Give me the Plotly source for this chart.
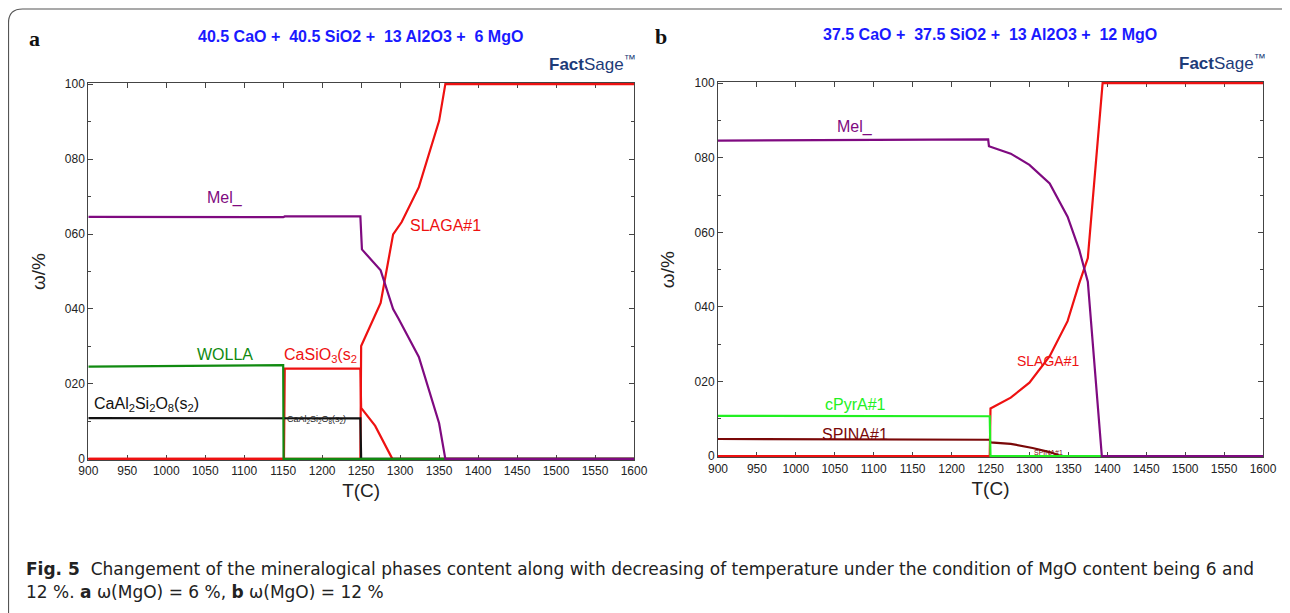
import plotly.graph_objects as go

# the page body adds an 8px margin, so the figure is 8px smaller and all
# reference pixel positions are shifted by that offset
OFF = 8
W, H = 1290 - OFF, 613 - OFF

# ---------------- data ----------------
# Panel a: 40.5 CaO + 40.5 SiO2 + 13 Al2O3 + 6 MgO
a_mel_T = [900, 1150, 1152, 1249, 1251, 1275, 1291, 1298, 1324, 1350, 1358, 1600]
a_mel_v = [64.6, 64.5, 64.7, 64.7, 55.9, 50.3, 40.0, 37.4, 27.2, 9.5, 0, 0]
a_slag_T = [900, 1249, 1250, 1275, 1291, 1302, 1324, 1350, 1358, 1600]
a_slag_v = [0, 0, 30.1, 41.6, 59.9, 63.2, 72.5, 90.2, 100, 100]
a_casio3_T = [900, 1151, 1152, 1249, 1250, 1268, 1290, 1600]
a_casio3_v = [0, 0, 24.1, 24.1, 13.6, 8.8, 0, 0]
a_wolla_T = [900, 1150, 1150.5, 1600]
a_wolla_v = [24.6, 25.0, 0, 0]
a_anor_T = [900, 1150, 1249, 1250, 1600]
a_anor_v = [10.9, 10.8, 10.8, 0, 0]

# Panel b: 37.5 CaO + 37.5 SiO2 + 13 Al2O3 + 12 MgO
b_mel_T = [900, 1247, 1248, 1276, 1300, 1326, 1349, 1364, 1375, 1393, 1600]
b_mel_v = [84.6, 84.9, 83.1, 81.1, 78.1, 73.1, 64.2, 55.3, 46.8, 0, 0]
b_slag_T = [900, 1249, 1250, 1276, 1300, 1326, 1349, 1364, 1375, 1394, 1600]
b_slag_v = [0, 0, 12.8, 15.7, 19.7, 26.8, 36.2, 46.4, 53.1, 100, 100]
b_cpyr_T = [900, 1249, 1250, 1600]
b_cpyr_v = [10.8, 10.7, 0, 0]
b_spina_T = [900, 1249, 1250, 1276, 1304, 1326, 1341, 1600]
b_spina_v = [4.6, 4.4, 3.7, 3.3, 2.2, 1.1, 0, 0]

x_ticks = list(range(900, 1601, 50))
y_ticks = [0, 20, 40, 60, 80, 100]
y_ticktext = ["0", "020", "040", "060", "080", "100"]
y_minor = [10, 30, 50, 70, 90]

RED = "#ee1111"
PURPLE = "#7f0a80"
DGREEN = "#108a10"
LIME = "#22f022"
DRED = "#7a0808"

fig = go.Figure()

def add(T, v, color, xa, ya, width=2.2):
    fig.add_trace(go.Scatter(x=T, y=v, mode="lines", xaxis=xa, yaxis=ya,
                             line=dict(color=color, width=width),
                             showlegend=False, hoverinfo="skip"))

# panel a (order chosen so the visible baseline colours match)
add(a_slag_T, a_slag_v, RED, "x", "y")
add(a_casio3_T, a_casio3_v, RED, "x", "y")
add(a_anor_T, a_anor_v, "#111111", "x", "y")
add(a_wolla_T, a_wolla_v, DGREEN, "x", "y")
add(a_mel_T, a_mel_v, PURPLE, "x", "y")

# panel b
add(b_slag_T, b_slag_v, RED, "x2", "y2")
add(b_spina_T, b_spina_v, DRED, "x2", "y2")
add(b_cpyr_T, b_cpyr_v, LIME, "x2", "y2")
add(b_mel_T, b_mel_v, PURPLE, "x2", "y2")

def px(x):
    return (x - OFF) / W

def py(y):
    return 1 - (y - OFF) / H

axis_common = dict(showline=True, linecolor="#444", linewidth=1, mirror="allticks",
                   ticks="inside", ticklen=5, tickcolor="#444", showgrid=False,
                   zeroline=False, layer="below traces", automargin=False,
                   tickfont=dict(family="Liberation Sans, Arial", size=12, color="#222"))

xa = dict(axis_common, range=[900, 1600], tickmode="array", tickvals=x_ticks,
          title=dict(text="T(C)", font=dict(family="Liberation Sans, Arial", size=19, color="#222"),
                     standoff=6))
ya = dict(axis_common, range=[-0.3, 100.3], tickmode="array", tickvals=y_ticks,
          ticktext=y_ticktext,
          minor=dict(tickmode="array", tickvals=y_minor, ticks="inside", ticklen=3, tickcolor="#444"),
          title=dict(text="ω/%", font=dict(family="Liberation Sans, Arial", size=19, color="#222"),
                     standoff=14))

fig.update_layout(
    template="none",
    width=W, height=H, margin=dict(l=0, r=0, t=0, b=0, autoexpand=False),
    paper_bgcolor="white", plot_bgcolor="white",
    xaxis=dict(xa, domain=[px(88.3), px(634)], anchor="y"),
    yaxis=dict(ya, domain=[py(460), py(83)], anchor="x"),
    xaxis2=dict(xa, domain=[px(718), px(1263)], anchor="y2"),
    yaxis2=dict(ya, domain=[py(457.3), py(82)], anchor="x2"),
)

ann = []

def text(x, y, s, size, color, xanchor="center", family="Liberation Sans, Arial"):
    ann.append(dict(x=px(x), y=py(y), xref="paper", yref="paper", text=s, showarrow=False,
                    xanchor=xanchor, yanchor="middle",
                    font=dict(size=size, color=color, family=family)))

# panel letters
text(34, 38, "<b>a</b>", 22, "#111", family="Liberation Serif, Times New Roman")
text(661, 37, "<b>b</b>", 22, "#111", family="Liberation Serif, Times New Roman")

# titles
text(360, 37, "<b>40.5 CaO +  40.5 SiO2 +  13 Al2O3 +  6 MgO</b>", 16, "#1a1aff")
text(990, 35, "<b>37.5 CaO +  37.5 SiO2 +  13 Al2O3 +  12 MgO</b>", 16, "#1a1aff")

# FactSage logos
text(592, 63, "<b>Fact</b>Sage<sup>™</sup>", 17, "#1d3b78")
text(1222, 62, "<b>Fact</b>Sage<sup>™</sup>", 17, "#1d3b78")

# panel a curve labels
text(225, 198, "Mel_", 16, PURPLE)
text(445, 225, "SLAGA#1", 16, RED)
text(225, 354, "WOLLA", 16, DGREEN)
text(282, 355, "CaSiO<sub>3</sub>(s<sub>2</sub>", 16, RED, xanchor="left")
text(92, 404, "CaAl<sub>2</sub>Si<sub>2</sub>O<sub>8</sub>(s<sub>2</sub>)", 16, "#111", xanchor="left")
text(285, 419, "CaAl<sub>2</sub>Si<sub>2</sub>O<sub>8</sub>(s<sub>2</sub>)", 9, "#222", xanchor="left")

# panel b curve labels
text(855, 127, "Mel_", 16, PURPLE)
text(1048, 361, "SLAGA#1", 14, RED)
text(855, 404, "cPyrA#1", 16, LIME)
text(855, 434, "SPINA#1", 16, DRED)
text(1048, 452, "SPINA#1", 7, DRED)

# caption
cap_font = dict(size=17, color="#222", family="DejaVu Sans, Liberation Sans, Arial")
ann.append(dict(x=px(24), y=py(569), xref="paper", yref="paper", showarrow=False,
                xanchor="left", yanchor="middle",
                text="<b>Fig. 5</b>  Changement of the mineralogical phases content along with decreasing of temperature under the condition of MgO content being 6 and",
                font=cap_font))
ann.append(dict(x=px(24), y=py(592), xref="paper", yref="paper", showarrow=False,
                xanchor="left", yanchor="middle",
                text="12 %. <b>a</b> ω(MgO) = 6 %, <b>b</b> ω(MgO) = 12 %",
                font=cap_font))

fig.update_layout(annotations=ann)

# outer rounded frame (paper coordinates)
r = 14
x0, y0, x1, y1 = 8.5, 9, 1310, 640

def P(x, y):
    return f"{px(x)},{py(y)}"

path = (f"M {P(x0+r, y0)} L {P(x1-r, y0)} Q {P(x1, y0)} {P(x1, y0+r)} "
        f"L {P(x1, y1)} L {P(x0, y1)} L {P(x0, y0+r)} Q {P(x0, y0)} {P(x0+r, y0)} Z")
fig.add_shape(type="path", path=path, xref="paper", yref="paper",
              line=dict(color="#555", width=1.2), fillcolor="rgba(0,0,0,0)", layer="below")

fig.write_html("out.html")
